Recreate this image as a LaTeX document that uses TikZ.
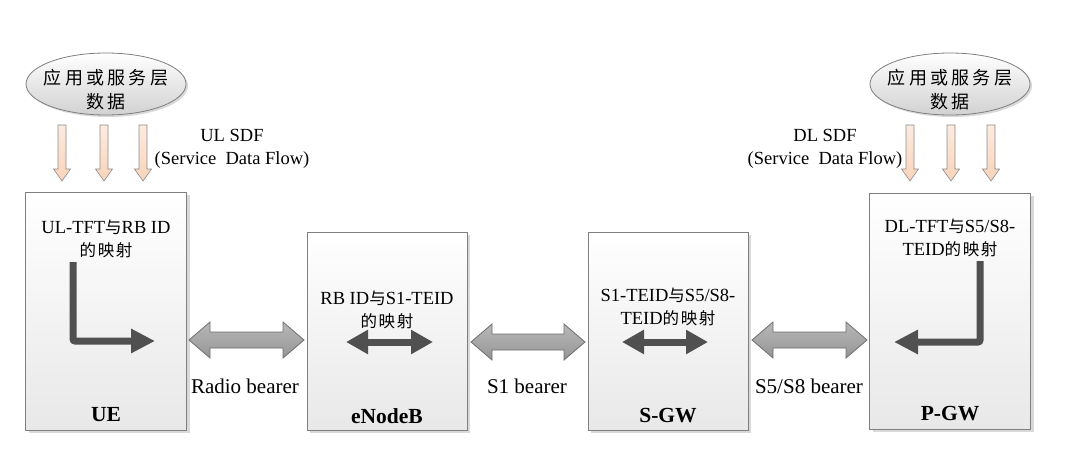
\documentclass[tikz,border=0pt]{standalone}
\usepackage{fontspec}
\setmainfont{Liberation Serif}
\newfontfamily\cjk[LetterSpace=10]{Noto Sans CJK SC}
\newfontfamily\cjkw[LetterSpace=18]{Noto Sans CJK SC}
\usetikzlibrary{arrows.meta,shadows,shapes.geometric}
\newcommand\zh[1]{{\cjk\fontsize{16.5}{18}\selectfont #1}}
\newcommand\zhw[1]{{\cjkw\fontsize{18}{20}\selectfont #1}}
\definecolor{boxline}{HTML}{7F7F7F}
\definecolor{peach}{HTML}{F9D3BA}
\definecolor{peachline}{HTML}{8C8C8C}
\definecolor{bigfill}{HTML}{A6A6A6}
\definecolor{bigline}{HTML}{6E6E6E}
\definecolor{darkarrow}{HTML}{505050}
\tikzset{
  txt/.style={inner sep=0pt, align=center, font=\fontsize{18.5}{23}\selectfont},
  lbl/.style={inner sep=0pt, font=\fontsize{21}{24}\selectfont},
  title/.style={inner sep=0pt, font=\bfseries\fontsize{21.5}{24}\selectfont},
  boxnode/.style={draw=boxline, line width=0.8pt, top color=white, bottom color=black!9,
    drop shadow={shadow xshift=3pt, shadow yshift=-3pt, fill=black!25, opacity=0.6},
    inner sep=0pt},
  appnode/.style={ellipse, draw=boxline, line width=0.8pt, top color=white, bottom color=black!18,
    drop shadow={shadow xshift=2pt, shadow yshift=-2pt, fill=black!25, opacity=0.6},
    inner sep=0pt},
  sdfarrow/.style={draw=peachline, line width=0.6pt, top color=peach!45, bottom color=peach},
  bigarrow/.style={draw=bigline, line width=0.8pt, top color=bigfill!80!white, bottom color=bigfill!90!black},
  maparrow/.style={draw=darkarrow, line width=7pt, rounded corners=2pt},
  tipR/.style={-{Triangle[length=24pt,width=23pt]}},
  tipLR/.style={{Triangle[length=22pt,width=23pt]}-{Triangle[length=22pt,width=23pt]}}
}
% small down arrow: center x, top y, tip y
\newcommand\sdf[3]{%
  \path[sdfarrow] (#1-4,#2) -- (#1+4,#2) -- (#1+4,#3-12) -- (#1+8.5,#3-12) -- (#1,#3)
    -- (#1-8.5,#3-12) -- (#1-4,#3-12) -- cycle;}
% big double arrow: left x, right x, center y
\newcommand\dbl[3]{%
  \path[bigarrow] (#1,#3) -- (#1+21,#3-18) -- (#1+21,#3-8) -- (#2-21,#3-8) -- (#2-21,#3-18)
    -- (#2,#3) -- (#2-21,#3+18) -- (#2-21,#3+8) -- (#1+21,#3+8) -- (#1+21,#3+18) -- cycle;}
\begin{document}
\begin{tikzpicture}[x=1pt,y=-1pt]
\path[use as bounding box] (0,0) rectangle (1078,466);

% application ellipses
\node[appnode, minimum width=160pt, minimum height=62pt] (appL) at (106,84) {};
\node[txt] (appLt) at (106,90) {\zhw{应用或服务层}\\[1pt]\zhw{数据}};
\node[appnode, minimum width=160pt, minimum height=62pt] (appR) at (950,84) {};
\node[txt] (appRt) at (950,90) {\zhw{应用或服务层}\\[1pt]\zhw{数据}};

% SDF arrows
\sdf{62}{125}{181}
\sdf{104}{125}{181}
\sdf{143}{125}{181}
\sdf{910}{125}{181}
\sdf{951}{125}{181}
\sdf{991}{125}{181}

\node[txt] (ulsdf) at (232,148.5) {UL SDF\\(Service\ \ Data Flow)};
\node[txt] (dlsdf) at (825,148.5) {DL SDF\\(Service\ \ Data Flow)};

% boxes
\node[boxnode, minimum width=161pt, minimum height=238pt] (ue) at (106,311) {};
\node[boxnode, minimum width=160pt, minimum height=198pt] (enb) at (387,331) {};
\node[boxnode, minimum width=160pt, minimum height=198pt] (sgw) at (668,331) {};
\node[boxnode, minimum width=161pt, minimum height=236pt] (pgw) at (950,311) {};

% box texts
\node[txt] (uet) at (106,238.5) {UL-TFT\zh{与}RB ID\\\zh{的映射}};
\node[txt] (enbt) at (387,310) {RB ID\zh{与}S1-TEID\\\zh{的映射}};
\node[txt] (sgwt) at (668,306.5) {S1-TEID\zh{与}S5/S8-\\TEID\zh{的映射}};
\node[txt] (pgwt) at (950,237.5) {DL-TFT\zh{与}S5/S8-\\TEID\zh{的映射}};

\node[title] (uen) at (106,415) {UE};
\node[title] (enbn) at (387,416) {eNodeB};
\node[title] (sgwn) at (668,416) {S-GW};
\node[title] (pgwn) at (950,414) {P-GW};

% mapping arrows
\coordinate (ueA) at (73,262);
\coordinate (ueB) at (73,341);
\coordinate (ueC) at (155,341);
\draw[maparrow, tipR] (ueA) -- (ueB) -- (ueC);
\coordinate (pgA) at (980,261);
\coordinate (pgB) at (980,342);
\coordinate (pgC) at (894,342);
\draw[maparrow, tipR] (pgA) -- (pgB) -- (pgC);
\coordinate (enA) at (346,342);
\coordinate (enB) at (433,342);
\draw[maparrow, tipLR] (enA) -- (enB);
\coordinate (sgA) at (622,342);
\coordinate (sgB) at (708,342);
\draw[maparrow, tipLR] (sgA) -- (sgB);

% bearers
\dbl{189}{304}{340}
\dbl{471}{585}{342}
\dbl{752}{867}{340}
\node[lbl] (rb) at (245,386) {Radio bearer};
\node[lbl] (s1b) at (527,386) {S1 bearer};
\node[lbl] (s58b) at (809,386) {S5/S8 bearer};
\end{tikzpicture}
\end{document}
